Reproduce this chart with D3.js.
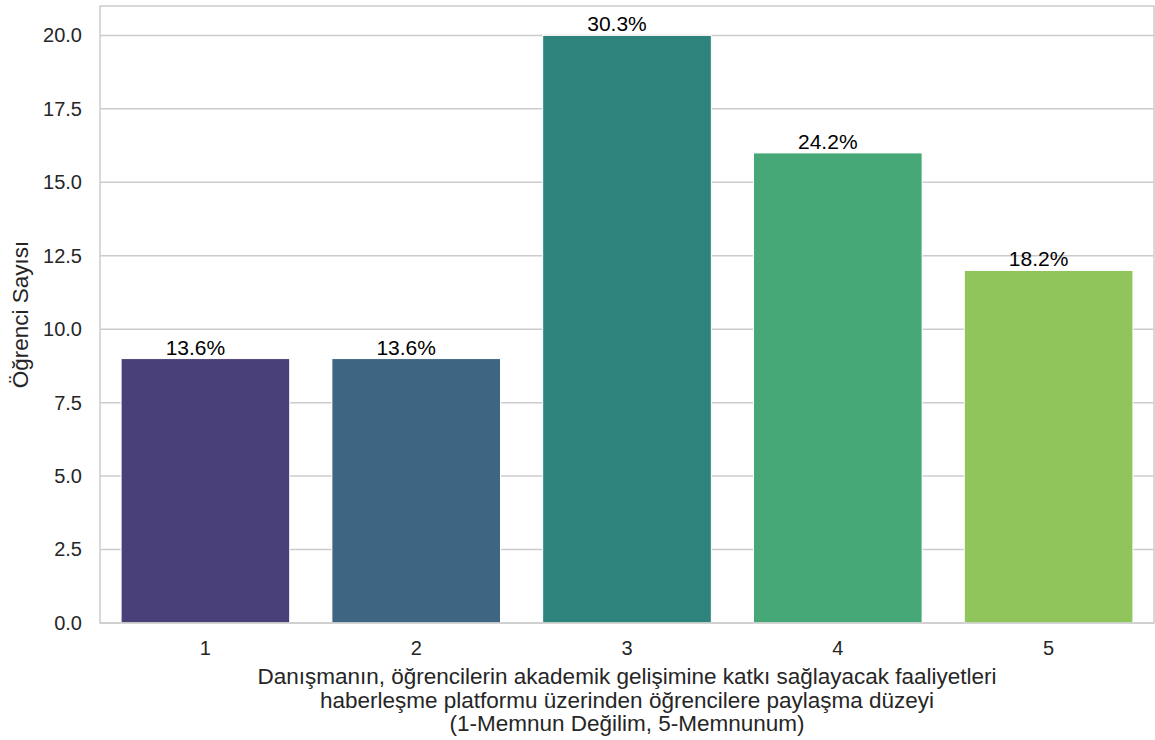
<!DOCTYPE html>
<html>
<head>
<meta charset="utf-8">
<title>Öğrenci Sayısı</title>
<script src="https://cdnjs.cloudflare.com/ajax/libs/d3/7.8.5/d3.min.js"></script>
<style>
body { margin: 0; background: #fff; }
text { font-family: "Liberation Sans", Arial, sans-serif; }
.tick text { fill: #262626; font-size: 20px; }
.domain { display: none; }
.grid line { stroke: #cccccc; stroke-width: 1.5px; }
</style>
</head>
<body>
<script>
// values
var categories = ["1", "2", "3", "4", "5"];
var counts = [9, 9, 20, 16, 12];
var pctLabels = ["13.6%", "13.6%", "30.3%", "24.2%", "18.2%"];
var barColors = ["#4a4079", "#3e6683", "#2e837c", "#47a877", "#8fc55a"];
var yTicks = [0, 2.5, 5, 7.5, 10, 12.5, 15, 17.5, 20];
var xTitle = [
    "Danışmanın, öğrencilerin akademik gelişimine katkı sağlayacak faaliyetleri",
    "haberleşme platformu üzerinden öğrencilere paylaşma düzeyi",
    "(1-Memnun Değilim, 5-Memnunum)"
];
var yTitle = "Öğrenci Sayısı";

var margin = {top: 6, right: 1, bottom: 117, left: 100},
    W = 1155, H = 740,
    width = W - margin.left - margin.right,
    height = H - margin.top - margin.bottom;

var svg = d3.select("body").append("svg")
    .attr("width", W)
    .attr("height", H);

var g = svg.append("g")
    .attr("transform", "translate(" + margin.left + "," + margin.top + ")");

var x = d3.scaleBand()
    .domain(categories)
    .range([0, width])
    .paddingInner(0.2)
    .paddingOuter(0.1);

var y = d3.scaleLinear()
    .domain([0, 21])
    .range([height, 0]);

// horizontal grid
g.append("g")
    .attr("class", "grid")
    .selectAll("line")
    .data(yTicks)
    .enter().append("line")
    .attr("x1", 0)
    .attr("x2", width)
    .attr("y1", function(d) { return y(d); })
    .attr("y2", function(d) { return y(d); });

// axes
g.append("g")
    .attr("transform", "translate(0," + height + ")")
    .call(d3.axisBottom(x).tickSize(0).tickPadding(18));

g.append("g")
    .call(d3.axisLeft(y).tickValues(yTicks).tickFormat(d3.format(".1f")).tickSize(0).tickPadding(18));

// bars
g.selectAll(".bar")
    .data(counts)
    .enter().append("rect")
    .attr("class", "bar")
    .attr("x", function(d, i) { return x(categories[i]); })
    .attr("width", x.bandwidth())
    .attr("y", function(d) { return y(d); })
    .attr("height", function(d) { return y(0) - y(d); })
    .attr("fill", function(d, i) { return barColors[i]; })
    .attr("stroke", "#fff")
    .attr("stroke-width", 1);

// percent labels (sit a little left of the bar centre, like the original)
g.selectAll(".pct")
    .data(counts)
    .enter().append("text")
    .attr("class", "pct")
    .attr("x", function(d, i) { return x(categories[i]) + x.bandwidth() / 2 - 10; })
    .attr("y", function(d) { return y(d) - 4; })
    .attr("text-anchor", "middle")
    .attr("font-size", "21px")
    .attr("fill", "#000")
    .text(function(d, i) { return pctLabels[i]; });

// frame (spines)
g.append("rect")
    .attr("width", width)
    .attr("height", height)
    .attr("fill", "none")
    .attr("stroke", "#cccccc")
    .attr("stroke-width", 1.5);

// x title
var xt = g.append("text")
    .attr("text-anchor", "middle")
    .attr("font-size", "22.5px")
    .attr("fill", "#262626")
    .attr("transform", "translate(" + (width / 2) + "," + (height + 61) + ")");
xt.selectAll("tspan")
    .data(xTitle)
    .enter().append("tspan")
    .attr("x", 0)
    .attr("dy", function(d, i) { return i === 0 ? 0 : 23.5; })
    .text(function(d) { return d; });

// y title
g.append("text")
    .attr("text-anchor", "middle")
    .attr("font-size", "22.5px")
    .attr("fill", "#262626")
    .attr("transform", "translate(" + (-72) + "," + (height / 2) + ") rotate(-90)")
    .text(yTitle);
</script>
</body>
</html>
